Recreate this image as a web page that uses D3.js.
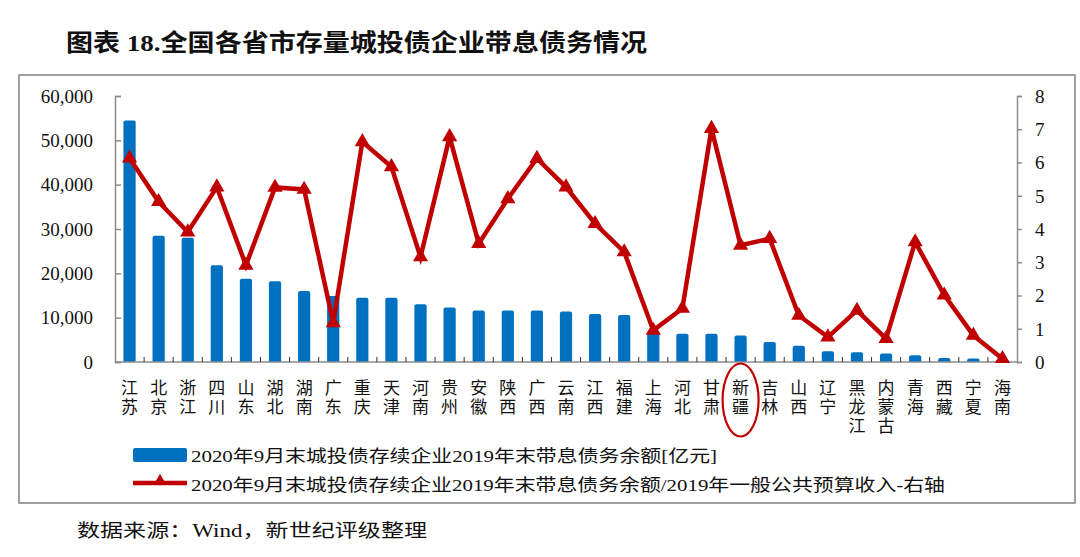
<!DOCTYPE html>
<html><head><meta charset="utf-8">
<script src="https://cdn.jsdelivr.net/npm/d3@7"></script>
<style>
html,body{margin:0;padding:0;background:#fff;}
svg{display:block;}
</style></head>
<body>
<svg id="c" width="1080" height="557"></svg>
<script>
const provinces = ["江苏","北京","浙江","四川","山东","湖北","湖南","广东","重庆","天津","河南","贵州","安徽","陕西","广西","云南","江西","福建","上海","河北","甘肃","新疆","吉林","山西","辽宁","黑龙江","内蒙古","青海","西藏","宁夏","海南"];
const debt = [54500,28500,28000,21800,18800,18200,16000,14900,14500,14500,13000,12300,11600,11600,11600,11400,10800,10600,6800,6400,6400,6000,4500,3650,2400,2200,1900,1500,900,770,400];
const ratio = [6.13,4.82,3.91,5.26,2.91,5.25,5.19,1.18,6.62,5.87,3.16,6.77,3.56,4.91,6.12,5.26,4.16,3.31,0.95,1.61,7.02,3.51,3.71,1.40,0.75,1.55,0.70,3.61,2.01,0.80,0.10];
const leftTicks = [0,10000,20000,30000,40000,50000,60000];
const rightTicks = [0,1,2,3,4,5,6,7,8];
const title = "图表 18.全国各省市存量城投债企业带息债务情况";
const legendBar = "2020年9月末城投债存续企业2019年末带息债务余额[亿元]";
const legendLine = "2020年9月末城投债存续企业2019年末带息债务余额/2019年一般公共预算收入-右轴";
const source = "数据来源：Wind，新世纪评级整理";
const highlight = "新疆";

const svg = d3.select("#c");
const BLUE = "#0070C0", RED = "#C00000", AX = "#8c8c8c";
const serif = "'Liberation Serif','Noto Sans CJK SC',serif";
const cjk = "'Noto Sans CJK SC','Liberation Serif',sans-serif";

const L = 115, R = 1017, T = 96, B = 362;
const x = d3.scaleBand().domain(provinces).range([L, R]).paddingInner(0.58).paddingOuter(0.29);
const xb = d3.scaleBand().domain(provinces).range([L, R]);
const yL = d3.scaleLinear().domain([0, 60000]).range([B, T]);
const yR = d3.scaleLinear().domain([0, 8]).range([B, T]);

// frame
svg.append("rect").attr("x",19).attr("y",75).attr("width",1056).attr("height",428)
  .attr("fill","none").attr("stroke","#808080").attr("stroke-width",1.5);

// title
svg.append("text").attr("x",66).attr("y",51).attr("font-family",serif).attr("font-weight","bold")
  .attr("font-size",24).attr("textLength",581).attr("lengthAdjust","spacingAndGlyphs")
  .attr("fill","#111").text(title);

// bars
svg.append("g").selectAll("path").data(provinces).join("path")
  .attr("fill", BLUE)
  .attr("d", (p,i) => {
    const x0 = x(p), w = x.bandwidth(), y0 = yL(debt[i]), r = Math.min(2, (B - y0)/2);
    return `M${x0},${B}V${y0+r}Q${x0},${y0} ${x0+r},${y0}H${x0+w-r}Q${x0+w},${y0} ${x0+w},${y0+r}V${B}Z`;
  });

// left axis
const gl = svg.append("g").attr("transform",`translate(${L},0)`)
  .call(d3.axisLeft(yL).tickValues(leftTicks).tickSize(-6).tickPadding(22).tickFormat(d3.format(",")));
gl.select(".domain").attr("stroke",AX).attr("stroke-width",1.5);
gl.selectAll(".tick line").attr("stroke",AX).attr("stroke-width",1.5);
gl.selectAll("text").attr("font-family",serif).attr("font-size",19).attr("fill","#111").attr("dy","0.33em");

// right axis
const gr = svg.append("g").attr("transform",`translate(${R},0)`)
  .call(d3.axisRight(yR).tickValues(rightTicks).tickSize(5).tickPadding(13).tickFormat(d3.format("d")));
gr.select(".domain").attr("stroke",AX).attr("stroke-width",1.5);
gr.selectAll(".tick line").attr("stroke",AX).attr("stroke-width",1.5);
gr.selectAll("text").attr("font-family",serif).attr("font-size",19).attr("fill","#111").attr("dy","0.33em");

// x axis line + boundary ticks
svg.append("line").attr("x1",L).attr("x2",R).attr("y1",B).attr("y2",B).attr("stroke",AX).attr("stroke-width",1.5);
svg.append("g").selectAll("line").data(provinces.slice(1)).join("line")
  .attr("x1",p=>xb(p)).attr("x2",p=>xb(p)).attr("y1",B).attr("y2",B-5)
  .attr("stroke","#333").attr("stroke-width",1);

// x labels (vertical text)
svg.append("g").selectAll("text").data(provinces).join("text")
  .attr("font-family",cjk).attr("font-size",17).attr("fill","#111")
  .style("writing-mode","vertical-rl").style("letter-spacing","2px")
  .attr("x", p => xb(p)+xb.bandwidth()/2).attr("y", 379).text(p => p);

// line
const line = d3.line().x((d,i)=>xb(provinces[i])+xb.bandwidth()/2).y(d=>yR(d));
svg.append("path").datum(ratio).attr("d",line).attr("fill","none")
  .attr("stroke",RED).attr("stroke-width",4.5).attr("stroke-linejoin","miter");
const tri = d3.symbol().type(d3.symbolTriangle).size(100);
svg.append("g").selectAll("path").data(ratio).join("path")
  .attr("d",tri).attr("fill",RED)
  .attr("transform",(d,i)=>`translate(${xb(provinces[i])+xb.bandwidth()/2},${yR(d)})`);

// highlight ellipse
svg.append("ellipse").attr("cx",xb(highlight)+xb.bandwidth()/2).attr("cy",400)
  .attr("rx",18).attr("ry",36.5).attr("fill","none").attr("stroke",RED).attr("stroke-width",2.2);

// legend
svg.append("rect").attr("x",133).attr("y",448).attr("width",54).attr("height",14).attr("rx",2).attr("fill",BLUE);
svg.append("text").attr("x",191).attr("y",462).attr("font-family",serif).attr("font-size",17)
  .attr("textLength",526).attr("lengthAdjust","spacingAndGlyphs").attr("fill","#111").text(legendBar);
svg.append("line").attr("x1",133).attr("x2",187).attr("y1",483).attr("y2",483).attr("stroke",RED).attr("stroke-width",4.5);
svg.append("path").attr("d",d3.symbol().type(d3.symbolTriangle).size(70)).attr("fill",RED)
  .attr("transform","translate(160,481)");
svg.append("text").attr("x",191).attr("y",491).attr("font-family",serif).attr("font-size",17)
  .attr("textLength",754).attr("lengthAdjust","spacingAndGlyphs").attr("fill","#111").text(legendLine);

// source
svg.append("text").attr("x",77).attr("y",537).attr("font-family",serif).attr("font-size",18)
  .attr("textLength",350).attr("lengthAdjust","spacingAndGlyphs").attr("fill","#111").text(source);
</script>
</body></html>
